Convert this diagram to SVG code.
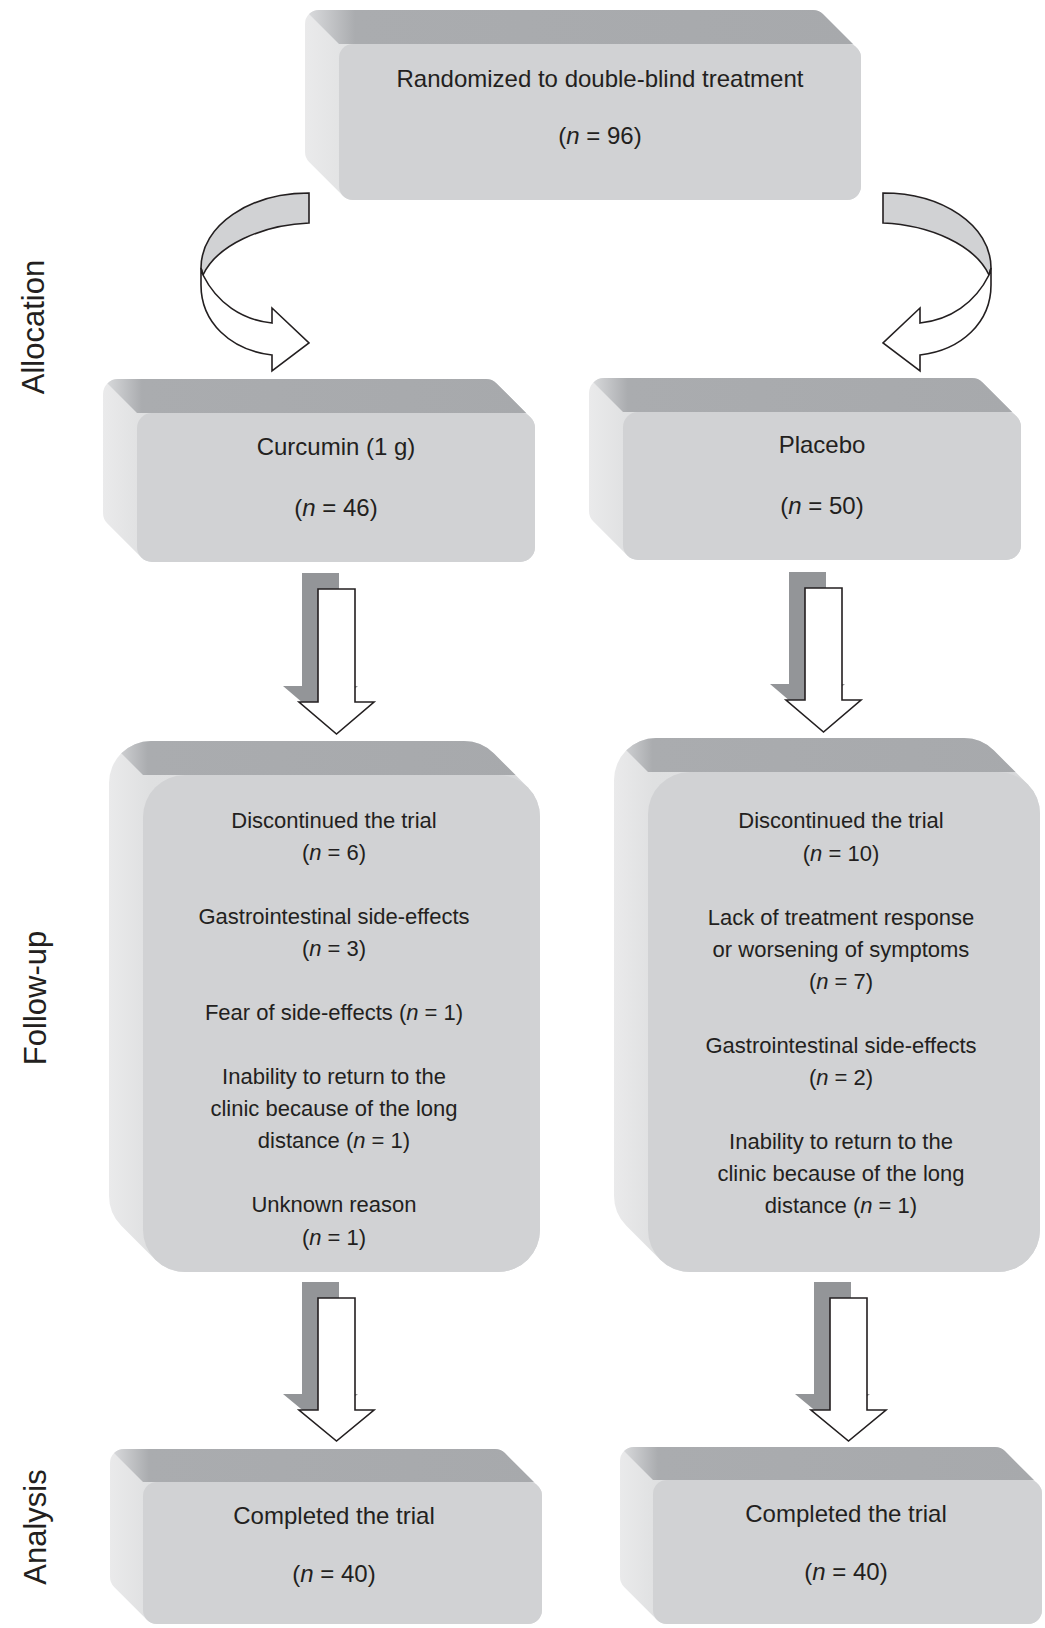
<svg xmlns="http://www.w3.org/2000/svg" width="1045" height="1628" viewBox="0 0 1045 1628">
<defs>
<linearGradient id="gSide" x1="0" y1="0" x2="1" y2="0">
<stop offset="0" stop-color="#ebebec"/><stop offset="0.1" stop-color="#dfe0e1"/><stop offset="1" stop-color="#d6d7d9"/>
</linearGradient>
<linearGradient id="gTop" x1="0" y1="0" x2="1" y2="0">
<stop offset="0" stop-color="#dcdddf"/><stop offset="0.09" stop-color="#aaacaf"/><stop offset="1" stop-color="#a7a9ac"/>
</linearGradient>
<clipPath id="c1"><path d="M305,24 A14,14 0 0 1 319,10 L813,10 A14,14 0 0 1 822.9,14.1 L856.9,48.1 A14,14 0 0 1 861,58 L861,186 A14,14 0 0 1 847,200 L353,200 A14,14 0 0 1 343.1,195.9 L309.1,161.9 A14,14 0 0 1 305,152 Z"/></clipPath>
<clipPath id="c2"><path d="M103,394 A15,15 0 0 1 118,379 L486,379 A15,15 0 0 1 496.6,383.4 L530.6,417.4 A15,15 0 0 1 535,428 L535,547 A15,15 0 0 1 520,562 L152,562 A15,15 0 0 1 141.4,557.6 L107.4,523.6 A15,15 0 0 1 103,513 Z"/></clipPath>
<clipPath id="c3"><path d="M589,393 A15,15 0 0 1 604,378 L972,378 A15,15 0 0 1 982.6,382.4 L1016.6,416.4 A15,15 0 0 1 1021,427 L1021,545 A15,15 0 0 1 1006,560 L638,560 A15,15 0 0 1 627.4,555.6 L593.4,521.6 A15,15 0 0 1 589,511 Z"/></clipPath>
<clipPath id="c4"><path d="M109,783 A42,42 0 0 1 151,741 L464,741 A42,42 0 0 1 493.7,753.3 L527.7,787.3 A42,42 0 0 1 540,817 L540,1230 A42,42 0 0 1 498,1272 L185,1272 A42,42 0 0 1 155.3,1259.7 L121.3,1225.7 A42,42 0 0 1 109,1196 Z"/></clipPath>
<clipPath id="c5"><path d="M614,780 A42,42 0 0 1 656,738 L964,738 A42,42 0 0 1 993.7,750.3 L1027.7,784.3 A42,42 0 0 1 1040,814 L1040,1230 A42,42 0 0 1 998,1272 L690,1272 A42,42 0 0 1 660.3,1259.7 L626.3,1225.7 A42,42 0 0 1 614,1196 Z"/></clipPath>
<clipPath id="c6"><path d="M110,1463 A14,14 0 0 1 124,1449 L495,1449 A14,14 0 0 1 504.9,1453.1 L537.9,1486.1 A14,14 0 0 1 542,1496 L542,1610 A14,14 0 0 1 528,1624 L157,1624 A14,14 0 0 1 147.1,1619.9 L114.1,1586.9 A14,14 0 0 1 110,1577 Z"/></clipPath>
<clipPath id="c7"><path d="M620,1461 A14,14 0 0 1 634,1447 L995,1447 A14,14 0 0 1 1004.9,1451.1 L1037.9,1484.1 A14,14 0 0 1 1042,1494 L1042,1610 A14,14 0 0 1 1028,1624 L667,1624 A14,14 0 0 1 657.1,1619.9 L624.1,1586.9 A14,14 0 0 1 620,1577 Z"/></clipPath>
</defs>
<style>
.side{fill:url(#gSide)}
.topf{fill:url(#gTop)}
.front{fill:#d1d2d4}
.t{font-family:"Liberation Sans",Arial,sans-serif;font-size:24px;fill:#231f20;text-anchor:middle}
.s{font-size:22px}
.lab{font-family:"Liberation Sans",Arial,sans-serif;font-size:31px;fill:#231f20;text-anchor:middle}
.ca{stroke:#231f20;stroke-width:1.6;stroke-linejoin:miter}
.grey{fill:#d1d2d4}
.white{fill:#ffffff}
.shadow{fill:#939598}
.ba{fill:#ffffff;stroke:#231f20;stroke-width:1.6}
</style>
<rect width="1045" height="1628" fill="#ffffff"/>

<g id="labels">
<text class="lab" transform="translate(44,327) rotate(-90)">Allocation</text>
<text class="lab" transform="translate(46,998) rotate(-90)">Follow-up</text>
<text class="lab" transform="translate(46,1527) rotate(-90)">Analysis</text>
</g>

<g id="connectors">
<path class="ca grey" d="M309,193 C250,193 201,225 201,268 L203,275 C217,245 262,225 309,223 Z"/>
<path class="ca white" d="M203,275 C217,303 242,320 272,323 L272,308 L309,343 L272,371 L272,355 C230,350 201,322 201,285 L201,268 Z"/>
<path class="ca grey" d="M883,193 C942,193 991,225 991,268 L989,275 C975,245 930,225 883,223 Z"/>
<path class="ca white" d="M989,275 C975,303 950,320 920,323 L920,308 L883,343 L920,371 L920,355 C962,350 991,322 991,285 L991,268 Z"/>
<path class="shadow" d="M302,573 L339,573 L339,686 L358,686 L320.5,718 L283,686 L302,686 Z"/>
<path class="ba" d="M318,589 L355,589 L355,702 L374,702 L336.5,734 L299,702 L318,702 Z"/>
<path class="shadow" d="M789,572 L826,572 L826,684 L845,684 L807.5,716 L770,684 L789,684 Z"/>
<path class="ba" d="M805,588 L842,588 L842,700 L861,700 L823.5,732 L786,700 L805,700 Z"/>
<path class="shadow" d="M302,1282 L339,1282 L339,1394 L358,1394 L320.5,1425 L283,1394 L302,1394 Z"/>
<path class="ba" d="M318,1298 L355,1298 L355,1410 L374,1410 L336.5,1441 L299,1410 L318,1410 Z"/>
<path class="shadow" d="M814,1282 L851,1282 L851,1394 L870,1394 L832.5,1425 L795,1394 L814,1394 Z"/>
<path class="ba" d="M830,1298 L867,1298 L867,1410 L886,1410 L848.5,1441 L811,1410 L830,1410 Z"/>
</g>

<g id="node-randomized">
<g clip-path="url(#c1)"><rect class="side" x="300" y="5" width="570" height="200"/><polygon class="topf" points="305,10 827,10 861,44 339,44"/></g>
<rect class="front" x="339" y="44" width="522" height="156" rx="14"/>
<text class="t" x="600" y="87" font-size="23.5">Randomized to double-blind treatment</text>
<text class="t" x="600" y="144">(<tspan font-style="italic">n</tspan> = 96)</text>
</g>

<g id="node-curcumin">
<g clip-path="url(#c2)"><rect class="side" x="100" y="375" width="440" height="190"/><polygon class="topf" points="103,379 501,379 535,413 137,413"/></g>
<rect class="front" x="137" y="413" width="398" height="149" rx="15"/>
<text class="t" x="336" y="455">Curcumin (1 g)</text>
<text class="t" x="336" y="516">(<tspan font-style="italic">n</tspan> = 46)</text>
</g>

<g id="node-placebo">
<g clip-path="url(#c3)"><rect class="side" x="585" y="374" width="440" height="190"/><polygon class="topf" points="589,378 987,378 1021,412 623,412"/></g>
<rect class="front" x="623" y="412" width="398" height="148" rx="15"/>
<text class="t" x="822" y="453">Placebo</text>
<text class="t" x="822" y="514">(<tspan font-style="italic">n</tspan> = 50)</text>
</g>

<g id="node-followup-curcumin">
<g clip-path="url(#c4)"><rect class="side" x="105" y="737" width="440" height="540"/><polygon class="topf" points="109,741 506,741 540,775 143,775"/></g>
<rect class="front" x="143" y="775" width="397" height="497" rx="42"/>
<text class="t s" x="334" y="828">Discontinued the trial</text>
<text class="t s" x="334" y="860">(<tspan font-style="italic">n</tspan> = 6)</text>
<text class="t s" x="334" y="924">Gastrointestinal side-effects</text>
<text class="t s" x="334" y="956">(<tspan font-style="italic">n</tspan> = 3)</text>
<text class="t s" x="334" y="1020">Fear of side-effects (<tspan font-style="italic">n</tspan> = 1)</text>
<text class="t s" x="334" y="1084">Inability to return to the</text>
<text class="t s" x="334" y="1116">clinic because of the long</text>
<text class="t s" x="334" y="1148">distance (<tspan font-style="italic">n</tspan> = 1)</text>
<text class="t s" x="334" y="1212">Unknown reason</text>
<text class="t s" x="334" y="1245">(<tspan font-style="italic">n</tspan> = 1)</text>
</g>

<g id="node-followup-placebo">
<g clip-path="url(#c5)"><rect class="side" x="610" y="734" width="435" height="545"/><polygon class="topf" points="614,738 1006,738 1040,772 648,772"/></g>
<rect class="front" x="648" y="772" width="392" height="500" rx="42"/>
<text class="t s" x="841" y="828">Discontinued the trial</text>
<text class="t s" x="841" y="861">(<tspan font-style="italic">n</tspan> = 10)</text>
<text class="t s" x="841" y="925">Lack of treatment response</text>
<text class="t s" x="841" y="957">or worsening of symptoms</text>
<text class="t s" x="841" y="989">(<tspan font-style="italic">n</tspan> = 7)</text>
<text class="t s" x="841" y="1053">Gastrointestinal side-effects</text>
<text class="t s" x="841" y="1085">(<tspan font-style="italic">n</tspan> = 2)</text>
<text class="t s" x="841" y="1149">Inability to return to the</text>
<text class="t s" x="841" y="1181">clinic because of the long</text>
<text class="t s" x="841" y="1213">distance (<tspan font-style="italic">n</tspan> = 1)</text>
</g>

<g id="node-completed-curcumin">
<g clip-path="url(#c6)"><rect class="side" x="105" y="1445" width="442" height="183"/><polygon class="topf" points="110,1449 509,1449 542,1482 143,1482"/></g>
<rect class="front" x="143" y="1482" width="399" height="142" rx="14"/>
<text class="t" x="334" y="1524">Completed the trial</text>
<text class="t" x="334" y="1582">(<tspan font-style="italic">n</tspan> = 40)</text>
</g>

<g id="node-completed-placebo">
<g clip-path="url(#c7)"><rect class="side" x="615" y="1443" width="430" height="185"/><polygon class="topf" points="620,1447 1009,1447 1042,1480 653,1480"/></g>
<rect class="front" x="653" y="1480" width="389" height="144" rx="14"/>
<text class="t" x="846" y="1522">Completed the trial</text>
<text class="t" x="846" y="1580">(<tspan font-style="italic">n</tspan> = 40)</text>
</g>
</svg>
